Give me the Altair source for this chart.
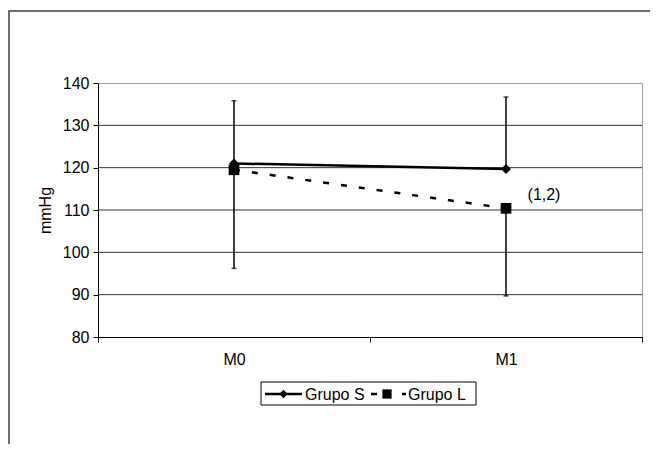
import altair as alt
import pandas as pd

# ---- data ----
TIMES = ["M0", "M1"]
GROUPS = ["Grupo S", "Grupo L"]
S_MEAN = [121.0, 119.7]
S_UPPER = [135.8, 136.7]      # upper end of Grupo S error bar
L_MEAN = [119.5, 110.4]
L_LOWER = [96.2, 89.7]        # lower end of Grupo L error bar
L_NOTES = ["", "(1,2)"]
Y_TICKS = [80, 90, 100, 110, 120, 130, 140]
GRID_VALUES = [90, 100, 110, 120, 130]

rows = []
for i, t in enumerate(TIMES):
    rows.append(dict(group=GROUPS[0], time=t, value=S_MEAN[i], lo=S_MEAN[i], hi=S_UPPER[i], cap=S_UPPER[i], note=""))
    rows.append(dict(group=GROUPS[1], time=t, value=L_MEAN[i], lo=L_LOWER[i], hi=L_MEAN[i], cap=L_LOWER[i], note=L_NOTES[i]))
df = pd.DataFrame(rows)
grid_df = pd.DataFrame({"value": GRID_VALUES})

FONT = "Liberation Sans"
W, H = 544, 254

x_axis = alt.Axis(labelAngle=0, tickBand="extent", grid=False, domainColor="black",
                  tickColor="black", tickSize=5, labelFontSize=16, labelFont=FONT,
                  labelColor="black", labelPadding=9)
x_scale = alt.Scale(type="band", domain=TIMES, paddingInner=0, paddingOuter=0)
y_axis = alt.Axis(values=Y_TICKS, grid=False, domainColor="black",
                  tickColor="black", tickSize=5, labelFontSize=16, labelFont=FONT,
                  labelColor="black", labelPadding=4, titleFont=FONT, titleFontSize=16,
                  titleFontWeight="normal", titleColor="black", titleAngle=270,
                  titleX=-53, titleY=H / 2, titleBaseline="middle", titleAlign="center")
y_scale = alt.Scale(domain=[80, 140], nice=False, zero=False)


def X():
    return alt.X("time:N", title=None, scale=x_scale, axis=x_axis)


def Y(field):
    return alt.Y(f"{field}:Q", title="mmHg", scale=y_scale, axis=y_axis)


base = alt.Chart(df)

grid = alt.Chart(grid_df).mark_rule(color="#333333", strokeWidth=1).encode(y=Y("value"))

outer = alt.Chart(pd.DataFrame({"k": [0]})).mark_rect(
    fill=None, stroke="#404040", strokeWidth=1.5).encode(
    x=alt.value(-89), x2=alt.value(700), y=alt.value(-72), y2=alt.value(600))

err = base.mark_rule(color="black", strokeWidth=1.5).encode(x=X(), y=Y("lo"), y2="hi:Q")
caps = base.mark_tick(color="black", size=5, thickness=1.5).encode(x=X(), y=Y("cap"))

line_s = base.transform_filter(alt.datum.group == GROUPS[0]).mark_line(
    color="black", strokeWidth=2.5).encode(x=X(), y=Y("value"))
line_l = base.transform_filter(alt.datum.group == GROUPS[1]).mark_line(
    color="black", strokeWidth=2.5, strokeDash=[6, 12]).encode(x=X(), y=Y("value"))
pts_s = base.transform_filter(alt.datum.group == GROUPS[0]).mark_point(
    shape="diamond", filled=True, color="black", size=100, opacity=1).encode(x=X(), y=Y("value"))
pts_l = base.transform_filter(alt.datum.group == GROUPS[1]).mark_point(
    shape="square", filled=True, color="black", size=115, opacity=1).encode(x=X(), y=Y("value"))
notes = base.transform_filter(alt.datum.note != "").mark_text(
    font=FONT, fontSize=16, color="black", dx=38, dy=-13, align="center", baseline="middle").encode(
    x=X(), y=Y("value"), text="note:N")

# ---- legend (drawn) ----
one = pd.DataFrame({"k": [0]})
LY = 311
leg_box = alt.Chart(one).mark_rect(fill="white", stroke="black", strokeWidth=1).encode(
    x=alt.value(163), x2=alt.value(378), y=alt.value(299), y2=alt.value(322))
leg_s_line = alt.Chart(one).mark_rule(color="black", strokeWidth=2.5).encode(
    x=alt.value(167), x2=alt.value(204), y=alt.value(LY))
leg_s_pt = alt.Chart(one).mark_point(shape="diamond", filled=True, color="black", size=70, opacity=1).encode(
    x=alt.value(185.5), y=alt.value(LY))
leg_s_txt = alt.Chart(one).mark_text(font=FONT, fontSize=16, align="left", baseline="middle", color="black").encode(
    x=alt.value(207), y=alt.value(LY + 1), text=alt.value(GROUPS[0]))
leg_l_d1 = alt.Chart(one).mark_rule(color="black", strokeWidth=2.5).encode(
    x=alt.value(273), x2=alt.value(279), y=alt.value(LY))
leg_l_d2 = alt.Chart(one).mark_rule(color="black", strokeWidth=2.5).encode(
    x=alt.value(304), x2=alt.value(308), y=alt.value(LY))
leg_l_pt = alt.Chart(one).mark_point(shape="square", filled=True, color="black", size=85, opacity=1).encode(
    x=alt.value(289), y=alt.value(LY))
leg_l_txt = alt.Chart(one).mark_text(font=FONT, fontSize=16, align="left", baseline="middle", color="black").encode(
    x=alt.value(310), y=alt.value(LY + 1), text=alt.value(GROUPS[1]))

chart = alt.layer(
    outer, grid, err, caps, line_s, line_l, pts_s, pts_l, notes,
    leg_box, leg_s_line, leg_s_pt, leg_s_txt, leg_l_d1, leg_l_d2, leg_l_pt, leg_l_txt
).properties(
    width=W, height=H,
    autosize=alt.AutoSizeParams(type="none"),
    padding={"left": 90, "top": 75, "right": 8, "bottom": 107},
    background="white",
).configure_view(stroke="#a0a0a0", strokeWidth=1)

chart.save("out.html", embed_options={"renderer": "svg", "actions": False})
